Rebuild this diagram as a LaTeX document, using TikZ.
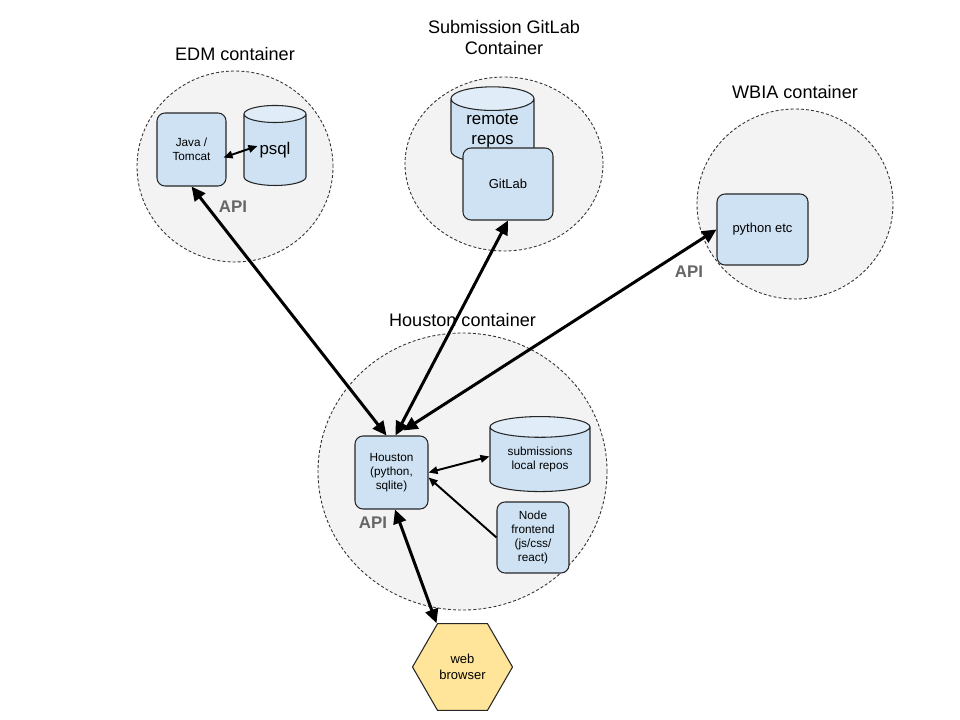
\documentclass[tikz,border=0pt]{standalone}
\usepackage{fontspec}
\setmainfont{Liberation Sans}
\usetikzlibrary{arrows.meta, positioning, calc, shapes.geometric}

\definecolor{boxblue}{HTML}{CFE2F3}
\definecolor{boxtop}{HTML}{E0EDF8}
\definecolor{bggray}{HTML}{F3F3F3}
\definecolor{apigray}{HTML}{666666}
\definecolor{webyellow}{HTML}{FFE599}

\begin{document}
\begin{tikzpicture}[
  x=0.2mm, y=-0.2mm,
  container/.style = {ellipse, draw=black!80, fill=bggray, line width=0.5pt,
                      dash pattern=on 1.7pt off 1.2pt, inner sep=0pt},
  ctitle/.style = {font=\fontsize{10.3}{12}\selectfont, align=center},
  block/.style = {draw=black!85, fill=boxblue, rounded corners=1.6mm, line width=0.6pt,
                  inner sep=1pt, align=center, font=\fontsize{6.7}{8}\selectfont},
  store/.style = {cylinder, shape border rotate=90, draw=black!85, line width=0.6pt,
                  cylinder uses custom fill, cylinder body fill=boxblue, cylinder end fill=boxtop,
                  inner sep=0pt, align=center},
  api/.style = {font=\bfseries\fontsize{9.6}{11}\selectfont, text=apigray},
  arrow/.style = {line width=1.7pt, {Triangle[length=2.8mm,width=2.6mm]}-{Triangle[length=2.8mm,width=2.6mm]}},
  link/.style = {line width=1.1pt, {Triangle[length=1.8mm,width=1.5mm]}-{Triangle[length=1.8mm,width=1.5mm]}},
  feed/.style = {line width=1.1pt, -{Triangle[length=1.8mm,width=1.5mm]}}
]

  \useasboundingbox[fill=white] (0,0) rectangle (960,720);

  % Containers
  \node[container, minimum width=39.2mm, minimum height=38.2mm] (edm) at (235,166.5) {};
  \node[container, minimum width=39.6mm, minimum height=34.8mm] (gitlab_box) at (504,164) {};
  \node[container, minimum width=39.2mm, minimum height=38mm] (wbia) at (795,204) {};
  \node[container, minimum width=57.8mm, minimum height=55.4mm] (houston_box) at (462.5,471.5) {};

  % Container titles
  \node[ctitle, above=0.75mm of edm] (edm_title) {EDM container};
  \node[ctitle, above=3.1mm of gitlab_box] (gitlab_title) {Submission GitLab\\Container};
  \node[ctitle, above=0.8mm of wbia] (wbia_title) {WBIA container};
  \node[ctitle, above=0mm of houston_box] (houston_title) {Houston container};

  % Stores
  \node[store, minimum width=12.4mm, minimum height=16mm, aspect=0.55,
        font=\fontsize{9.6}{11}\selectfont] (psql) at (275,150) {psql};
  \node[store, minimum width=16.6mm, minimum height=15.2mm, aspect=0.45,
        font=\fontsize{9.6}{11.4}\selectfont] (remote) at (492.5,131) {remote\\repos};
  \node[store, minimum width=20mm, minimum height=15mm, aspect=0.32,
        font=\fontsize{6.7}{8}\selectfont] (subm) at (540,459.5) {submissions\\local repos};

  % Service blocks
  \node[block, minimum width=13.8mm, minimum height=14.6mm] (java) at (191.5,149.5) {Java /\\Tomcat};
  \node[block, minimum width=18mm, minimum height=14.4mm, font=\fontsize{7.4}{9}\selectfont] (gitlab) at (508,184) {GitLab};
  \node[block, minimum width=18.2mm, minimum height=14.2mm, font=\fontsize{7.4}{9}\selectfont] (python) at (762.5,229.5) {python etc};
  \node[block, minimum width=14.6mm, minimum height=14.6mm] (houston) at (391.5,472.5) {Houston\\(python,\\sqlite)};
  \node[block, minimum width=14.4mm, minimum height=14.2mm] (frontend) at (533,537.5) {Node\\frontend\\(js/css/\\react)};

  % Browser
  \node[regular polygon, regular polygon sides=6, minimum size=20mm, inner sep=0pt,
        draw=black!85, fill=webyellow, line width=0.6pt, align=center,
        font=\fontsize{7.4}{8.8}\selectfont] (browser) at (462.5,667) {web\\browser};

  % API labels
  \node[api] (edm_api) at (233,207) {API};
  \node[api] (wbia_api) at (689,272) {API};
  \node[api] (houston_api) at (373,523) {API};

  % Connections
  \draw[arrow] (java.south) -- ([xshift=-1mm]houston.north);
  \draw[arrow] (gitlab.south) -- ([xshift=0.8mm]houston.north);
  \draw[arrow] (python.west) -- ($(houston.north)+(12,-5)$);
  \draw[arrow] ([xshift=0.7mm]houston.south) -- ([xshift=-5.2mm]browser.north);
  \draw[link] ($(java.east)+(-3,8)$) -- ($(psql.west)+(14,-4)$);
  \draw[link] (houston.east) -- ($(subm.west)+(0,-3)$);
  \draw[feed] (frontend.west) -- ([yshift=-1mm]houston.east);

\end{tikzpicture}
\end{document}
